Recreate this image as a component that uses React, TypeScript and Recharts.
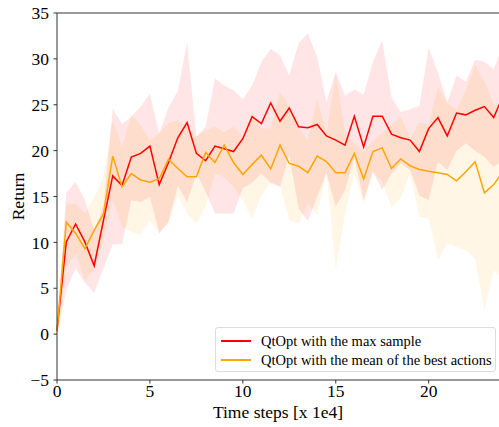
import { ComposedChart, Line, Area, XAxis, YAxis, ReferenceLine } from 'recharts'

const steps = [0, 0.5, 1, 1.5, 2, 2.5, 3, 3.5, 4, 4.5, 5, 5.5, 6, 6.5, 7, 7.5, 8, 8.5, 9, 9.5, 10, 10.5, 11, 11.5, 12, 12.5, 13, 13.5, 14, 14.5, 15, 15.5, 16, 16.5, 17, 17.5, 18, 18.5, 19, 19.5, 20, 20.5, 21, 21.5, 22, 22.5, 23, 23.5, 24]

const maxSample = [0.4, 10.05, 12.0, 10.05, 7.45, 12.4, 17.25, 16.2, 19.3, 19.7, 20.5, 16.3, 18.7, 21.4, 23.05, 19.7, 18.9, 20.5, 20.2, 19.9, 21.3, 23.7, 22.95, 25.2, 23.2, 24.65, 22.6, 22.5, 22.85, 21.6, 21.15, 20.6, 23.75, 20.4, 23.75, 23.75, 21.8, 21.4, 21.15, 19.9, 22.4, 23.6, 21.6, 24.1, 23.9, 24.4, 24.8, 23.6, 26.0]
const maxSampleHigh = [0.4, 15.4, 16.6, 14.6, 11.3, 13.9, 24.6, 22.9, 23.7, 24.8, 26.2, 21.9, 24.7, 26.5, 31.8, 21.5, 22.6, 27.9, 27.1, 26.6, 25.6, 27.1, 29.7, 31.1, 30.4, 28.2, 31.7, 32.8, 30.2, 25.3, 28.6, 26.0, 26.65, 26.1, 29.7, 32.0, 25.85, 24.2, 24.5, 24.9, 31.2, 28.5, 25.3, 28.2, 27.5, 29.9, 29.7, 28.9, 31.5]
const maxSampleLow = [0, 4.8, 7.15, 5.6, 4.5, 7.15, 9.8, 9.8, 14.6, 14.4, 14.95, 11.0, 12.2, 16.2, 14.4, 17.5, 15.5, 13.15, 13.15, 13.15, 15.9, 16.5, 17.5, 16.5, 16.05, 19.5, 13.7, 12.3, 15.0, 17.5, 13.9, 15.7, 19.3, 14.6, 17.7, 15.7, 17.5, 18.6, 17.9, 15.1, 14.6, 18.8, 17.9, 20.0, 20.8, 20.0, 19.3, 18.2, 19.0]

const meanBest = [0.3, 12.2, 11.0, 9.3, 11.3, 13.1, 19.4, 16.05, 17.5, 16.8, 16.55, 16.95, 19.05, 18.05, 17.15, 17.15, 19.8, 18.7, 20.6, 18.7, 17.4, 18.5, 19.5, 18.0, 20.6, 18.6, 18.3, 17.6, 19.4, 18.8, 17.6, 17.6, 19.7, 16.9, 19.9, 20.3, 18.05, 19.1, 18.35, 17.95, 17.75, 17.6, 17.4, 16.7, 17.7, 18.8, 15.4, 16.3, 17.7]
const meanBestHigh = [0.4, 14.2, 14.2, 13.15, 14.95, 17.1, 23.3, 20.4, 23.85, 22.8, 21.1, 21.9, 23.0, 23.3, 22.5, 21.5, 22.2, 22.6, 22.0, 22.6, 21.5, 24.1, 22.4, 22.4, 26.4, 24.8, 22.6, 21.1, 25.7, 21.9, 28.4, 21.9, 20.8, 20.0, 21.1, 21.9, 22.8, 23.7, 21.3, 23.1, 22.8, 27.0, 25.2, 24.4, 26.6, 29.3, 27.5, 25.1, 24.0]
const meanBestLow = [0, 7.3, 8.8, 5.9, 7.0, 10.2, 14.6, 11.7, 11.15, 10.8, 12.4, 11.0, 12.2, 15.1, 13.15, 12.05, 13.9, 17.5, 17.1, 16.05, 14.6, 12.6, 15.1, 16.5, 16.2, 12.4, 12.05, 14.2, 13.0, 17.7, 7.0, 13.15, 17.5, 14.3, 17.7, 16.6, 13.8, 14.8, 17.5, 12.8, 12.6, 8.1, 9.9, 9.5, 9.15, 8.25, 2.6, 7.0, 6.0]

const xTicks = [0, 5, 10, 15, 20]
const yTicks = [-5, 0, 5, 10, 15, 20, 25, 30, 35]

const FONT = 'Liberation Serif, Times New Roman, serif'

const data = steps.map((t, i) => ({
  t,
  maxSample: maxSample[i],
  maxBand: [maxSampleLow[i], maxSampleHigh[i]],
  meanBest: meanBest[i],
  meanBand: [meanBestLow[i], meanBestHigh[i]],
}))

const legendItems = [
  { label: 'QtOpt with the max sample', color: '#ff0000' },
  { label: 'QtOpt with the mean of the best actions', color: '#ffa500' },
]

const LegendBox = () => (
  <div
    style={{
      position: 'absolute',
      left: 215,
      top: 327,
      width: 281,
      height: 45,
      border: '1px solid #dcdcdc',
      borderRadius: 3,
      background: 'rgba(255,255,255,0.85)',
      padding: '4px 0 0 0',
      boxSizing: 'border-box',
      fontFamily: FONT,
      fontSize: 14.5,
      color: '#000',
    }}
  >
    {legendItems.map(item => (
      <div key={item.label} style={{ display: 'flex', alignItems: 'center', height: 18.7, whiteSpace: 'nowrap' }}>
        <span style={{ display: 'inline-block', width: 30, height: 2, background: item.color, marginLeft: 5, marginRight: 10 }} />
        <span>{item.label}</span>
      </div>
    ))}
  </div>
)

const fmtY = (v: number) => (v < 0 ? `\u2212${-v}` : String(v))

const XTick = ({ x, y, payload }: any) => (
  <text x={x} y={y} dy="0.71em" textAnchor="middle" fill="#000" fontSize={17.5} fontFamily={FONT}>
    {payload.value}
  </text>
)

const YTick = ({ x, y, payload }: any) => (
  <text x={x} y={y} dy="0.355em" textAnchor="end" fill="#000" fontSize={17.5} fontFamily={FONT}>
    {fmtY(payload.value)}
  </text>
)

export default function App() {
  return (
    <div style={{ position: 'absolute', left: 0, top: 0, width: 499, height: 427, overflow: 'hidden', background: '#fff', fontFamily: FONT }}>
      <ComposedChart width={504} height={427} data={data} margin={{ top: 13, right: 1, left: 0, bottom: 0 }}>
        <XAxis
          dataKey="t"
          type="number"
          domain={[0, 24]}
          ticks={xTicks}
          tick={<XTick />}
          tickSize={3.5}
          tickMargin={1.5}
          height={47}
          stroke="#333"
          label={{ value: 'Time steps [x 1e4]', position: 'center', dy: 8, dx: -2, fill: '#000', fontSize: 17.5, fontFamily: FONT }}
        />
        <YAxis
          type="number"
          domain={[-5, 35]}
          ticks={yTicks}
          tick={<YTick />}
          tickSize={3.5}
          tickMargin={4.5}
          width={57}
          stroke="#333"
          label={{ value: 'Return', angle: -90, position: 'center', dx: -11, fill: '#000', fontSize: 17.5, fontFamily: FONT }}
        />
        <ReferenceLine y={35} stroke="#333" strokeWidth={1} />
        <Area dataKey="meanBand" stroke="none" fill="#ffa500" fillOpacity={0.1} isAnimationActive={false} />
        <Area dataKey="maxBand" stroke="none" fill="#ff0000" fillOpacity={0.1} isAnimationActive={false} />
        <Line dataKey="maxSample" stroke="#ff0000" strokeWidth={1.5} dot={false} isAnimationActive={false} />
        <Line dataKey="meanBest" stroke="#ffa500" strokeWidth={1.5} dot={false} isAnimationActive={false} />
      </ComposedChart>
      <LegendBox />
    </div>
  )
}
